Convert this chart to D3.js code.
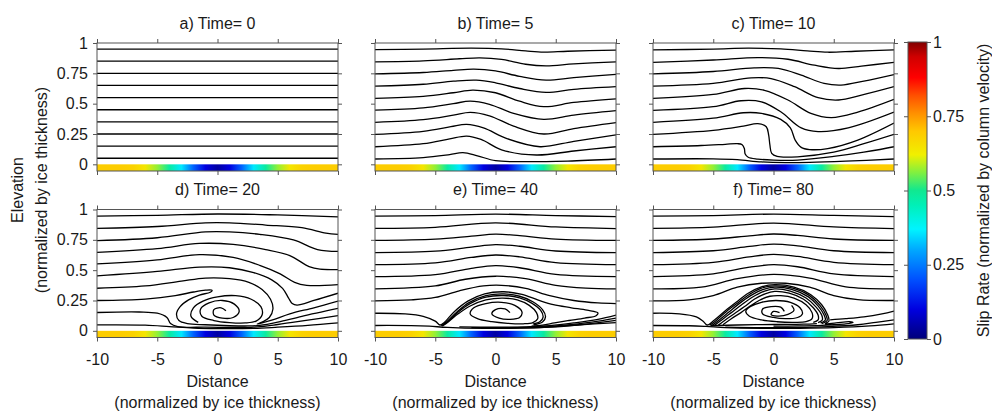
<!DOCTYPE html>
<html><head><meta charset="utf-8">
<script src="https://cdn.jsdelivr.net/npm/d3@7"></script>
<style>
body{margin:0;background:#fff}
svg{display:block}
text{font-family:"Liberation Sans",Arial,Helvetica,sans-serif;font-size:16px;fill:#1a1a1a}
</style>
</head><body>
<svg id="chart" width="992" height="413"></svg>
<script>
// ---------------- data ----------------
const panelTitles = ["a) Time= 0","b) Time= 5","c) Time= 10","d) Time= 20","e) Time= 40","f) Time= 80"];
const xTickValues = [-10,-5,0,5,10];
const yTickValues = [0,0.25,0.5,0.75,1];
const colorbarTicks = [0,0.25,0.5,0.75,1];
const xLabel = ["Distance","(normalized by ice thickness)"];
const yLabel = ["Elevation","(normalized by ice thickness)"];
const colorbarLabel = "Slip Rate (normalized by column velocity)";

// basal slip rate along the bed
const slipX    = [-10,-9,-8,-7,-6,-5,-4,-3,-2,-1,0,1,2,3,4,5,6,7,8,9,10];
const slipRate = [0.69,0.69,0.69,0.68,0.64,0.57,0.48,0.36,0.22,0.1,0.04,0.1,0.22,0.36,0.48,0.57,0.64,0.68,0.69,0.69,0.69];

// colour map
const cmapStops  = [0,0.1,0.2,0.3,0.37,0.45,0.5,0.56,0.62,0.7,0.76,0.82,0.88,0.95,1];
const cmapColors = ["#00007a","#0000e0","#0050ff","#00a8ff","#00f4ff","#00f0b8","#10e890","#80f040","#f0f000","#ffc800","#ff9000","#ff5000","#ff0000","#d00000","#800000"];

// isochrone layers (x, elevation) per time
const layersT0 = [
 [[-10,0.05],[10,0.05]],[[-10,0.15],[10,0.15]],[[-10,0.25],[10,0.25]],[[-10,0.35],[10,0.35]],[[-10,0.45],[10,0.45]],
 [[-10,0.55],[10,0.55]],[[-10,0.65],[10,0.65]],[[-10,0.75],[10,0.75]],[[-10,0.85],[10,0.85]],[[-10,0.95],[10,0.95]]
];
const layersT5 = [
 [[-10,0.946],[-6,0.95],[-2,0.957],[0.5,0.952],[2.5,0.935],[4,0.925],[6,0.932],[10,0.942]],
 [[-10,0.845],[-6,0.853],[-3,0.87],[-1.3,0.878],[0.5,0.865],[2.5,0.825],[4.2,0.812],[6.5,0.828],[10,0.845]],
 [[-10,0.746],[-6,0.757],[-3.5,0.775],[-1.8,0.785],[0,0.77],[2,0.725],[4.2,0.694],[6.5,0.715],[10,0.742]],
 [[-10,0.645],[-6,0.66],[-3.5,0.685],[-1.6,0.694],[0,0.672],[2,0.625],[4.2,0.593],[6.5,0.618],[10,0.64]],
 [[-10,0.543],[-6,0.56],[-3.5,0.59],[-1.9,0.612],[0,0.59],[2,0.52],[4,0.475],[6.5,0.51],[10,0.54]],
 [[-10,0.447],[-6,0.465],[-3.5,0.5],[-2.1,0.521],[-0.5,0.495],[1.5,0.42],[4,0.37],[6.5,0.405],[10,0.442]],
 [[-10,0.346],[-6,0.368],[-3.5,0.405],[-2.1,0.428],[-0.5,0.4],[1.5,0.315],[4,0.25],[6.5,0.295],[10,0.344]],
 [[-10,0.247],[-6,0.272],[-3.7,0.31],[-2.4,0.329],[-1,0.3],[1,0.21],[3.7,0.145],[6.5,0.19],[10,0.242]],
 [[-10,0.145],[-6,0.17],[-3.8,0.21],[-2.4,0.233],[-1.2,0.205],[0.5,0.12],[3.4,0.077],[6.5,0.11],[10,0.145]],
 [[-10,0.044],[-6,0.055],[-3.8,0.08],[-2.7,0.096],[-1.5,0.07],[0,0.03],[2,0.022],[6,0.027],[10,0.044]]
];
const layersT10 = [
 [[-10,0.943],[-5,0.95],[-2.1,0.957],[0.6,0.951],[2.8,0.935],[4.5,0.924],[6.8,0.932],[10,0.943]],
 [[-10,0.84],[-5,0.86],[-1.3,0.88],[1.2,0.866],[3.4,0.817],[5.4,0.79],[7.3,0.81],[10,0.84]],
 [[-10,0.745],[-5,0.765],[-1.6,0.795],[0.4,0.79],[2.3,0.735],[4.2,0.667],[5.6,0.653],[7.5,0.686],[10,0.74]],
 [[-10,0.645],[-5,0.667],[-1.85,0.713],[-0.2,0.707],[1.75,0.64],[3.7,0.549],[5.4,0.53],[7.3,0.57],[10,0.64]],
 [[-10,0.543],[-5,0.576],[-2.4,0.625],[-0.75,0.61],[1.2,0.53],[3.1,0.42],[4.8,0.385],[7,0.43],[10,0.535]],
 [[-10,0.445],[-5,0.475],[-2.7,0.524],[-1,0.515],[0.6,0.433],[2.3,0.3],[3.7,0.27],[6.2,0.3],[10,0.43]],
 [[-10,0.346],[-5,0.38],[-2.5,0.425],[-1,0.42],[0.6,0.37],[1.4,0.3],[1.8,0.2],[2.3,0.14],[3,0.122],[4.5,0.13],[7,0.2],[10,0.34]],
 [[-10,0.247],[-5,0.28],[-2.5,0.315],[-1.3,0.335],[-0.6,0.31],[-0.4,0.24],[-0.3,0.16],[-0.15,0.09],[0.3,0.065],[2,0.062],[5,0.1],[7.5,0.17],[10,0.247]],
 [[-10,0.145],[-6,0.155],[-4,0.165],[-3,0.17],[-2.6,0.162],[-2.42,0.13],[-2.35,0.085],[-2.1,0.058],[-1.3,0.043],[0,0.035],[2,0.035],[5,0.065],[7.5,0.1],[10,0.145]],
 [[-10,0.044],[-5,0.045],[-3,0.038],[-1,0.02],[1,0.014],[3,0.016],[6,0.026],[10,0.044]]
];
const layersT20 = [
 [[-10,0.946],[-5,0.952],[0,0.963],[5,0.955],[10,0.94]],
 [[-10,0.845],[-5,0.86],[-1,0.89],[1,0.89],[4,0.872],[7,0.85],[9,0.805],[10,0.795]],
 [[-10,0.743],[-5,0.767],[-1,0.815],[1,0.815],[3.5,0.795],[6.3,0.749],[8.3,0.67],[10,0.655]],
 [[-10,0.647],[-5,0.677],[-1.5,0.72],[1.3,0.712],[4,0.67],[6,0.62],[7.6,0.53],[8.5,0.508],[10,0.505]],
 [[-10,0.551],[-5,0.585],[-1.5,0.628],[1.3,0.605],[3.5,0.54],[5.2,0.47],[6.4,0.4],[7.4,0.375],[10,0.38]],
 [[-10,0.453],[-5,0.49],[-1.5,0.525],[1,0.52],[3,0.48],[4.5,0.42],[5.4,0.35],[5.9,0.27],[6.2,0.225],[6.6,0.212],[8,0.25],[10,0.31]],
 [[-10,0.351],[-6,0.37],[-3,0.41],[-1,0.435],[1,0.43],[2.6,0.4],[3.7,0.34],[4.4,0.26],[4.6,0.18],[4.3,0.11],[3.7,0.072],[3.3,0.056],[4.5,0.088],[6,0.14],[8,0.19],[10,0.245]],
 [[-10,0.25],[-6,0.262],[-3.5,0.29],[-2,0.32],[-1,0.335],[-0.45,0.335],[-0.6,0.318],[-1.5,0.295],[-2.4,0.255],[-3.1,0.2],[-3.4,0.14],[-3.2,0.085],[-2.5,0.06],[-1,0.05],[1,0.042],[2.5,0.04],[3.5,0.045],[5,0.072],[7,0.12],[10,0.185]],
 [[-10,0.151],[-6.5,0.155],[-5,0.145],[-4.2,0.11],[-3.9,0.06],[-3.3,0.035],[-1,0.03],[1,0.028],[3,0.03],[5,0.052],[7.5,0.088],[10,0.125]],
 [[-10,0.049],[-6,0.047],[-4,0.035],[-2,0.022],[0,0.018],[3,0.02],[5,0.03],[7.5,0.045],[10,0.065]],
 [[-1.6,0.07],[-2.2,0.12],[-2,0.19],[-1.2,0.245],[0,0.28],[1.5,0.29],[2.8,0.26],[3.6,0.2],[3.7,0.13],[3.2,0.08],[2.3,0.065],[1,0.068],[-0.3,0.085],[-1.3,0.12],[-1.4,0.18],[-0.7,0.23],[0.4,0.25],[1.4,0.22],[1.8,0.16],[1.3,0.11],[0.4,0.105],[-0.3,0.13],[-0.3,0.175],[0.3,0.19],[0.7,0.165]]
];
const layersT40 = [
 [[-10,0.946],[-5,0.95],[0,0.962],[5,0.95],[10,0.942]],
 [[-10,0.845],[-5,0.853],[0,0.89],[5,0.856],[10,0.843]],
 [[-10,0.745],[-5,0.755],[-2,0.78],[0,0.797],[2,0.785],[5,0.756],[10,0.745]],
 [[-10,0.645],[-5,0.657],[-2,0.69],[0,0.71],[2,0.697],[5,0.658],[10,0.645]],
 [[-10,0.545],[-5,0.56],[-2,0.605],[0,0.625],[2,0.61],[5,0.562],[10,0.545]],
 [[-10,0.447],[-5,0.463],[-2,0.515],[0,0.537],[2,0.52],[5,0.465],[10,0.447]],
 [[-10,0.346],[-5,0.37],[-2.5,0.425],[0,0.45],[2.5,0.43],[5,0.375],[7.5,0.352],[10,0.346]],
 [[-10,0.247],[-7,0.255],[-5,0.275],[-3,0.33],[-1,0.37],[0.5,0.375],[2.5,0.35],[4.5,0.29],[6.5,0.25],[8.5,0.23],[10,0.225]],
 [[-10,0.145],[-7.5,0.14],[-6,0.12],[-5,0.08],[-4.6,0.048],[-4.3,0.065],[-3.4,0.16],[-2.3,0.245],[-0.9,0.305],[0.7,0.322],[2.2,0.3],[3.5,0.255],[4.8,0.215],[6.3,0.19],[7.6,0.17],[8.5,0.148],[8.35,0.125],[7.4,0.105],[6.1,0.085],[4.9,0.065],[3.9,0.047],[3,0.038]],
 [[-10,0.044],[-7,0.043],[-5.5,0.038],[-4,0.028],[-1,0.02],[2,0.022],[4,0.028],[7,0.05],[10,0.068]],
 [[-4.5,0.042],[-4.1,0.07],[-3.2,0.155],[-2.2,0.232],[-0.8,0.29],[0.7,0.305],[2,0.285],[3.1,0.24],[3.9,0.175],[4.15,0.115],[3.9,0.072],[3.2,0.05]],
 [[-4.45,0.041],[-4,0.072],[-3.15,0.15],[-2.15,0.222],[-0.8,0.278],[0.7,0.291],[2,0.272],[3,0.228],[3.75,0.168],[3.95,0.113],[3.7,0.076],[3.1,0.055]],
 [[-4.4,0.04],[-3.9,0.075],[-3.1,0.14],[-2.1,0.205],[-0.8,0.255],[0.6,0.27],[1.8,0.255],[2.8,0.21],[3.4,0.15],[3.5,0.1],[3.1,0.068],[2.3,0.058],[1,0.062],[-0.3,0.075],[-1.5,0.1],[-2.1,0.14],[-1.8,0.19],[-0.8,0.225],[0.5,0.235],[1.6,0.21],[2.2,0.155],[2,0.11],[1.2,0.095],[0.3,0.105],[-0.3,0.14],[0,0.175],[0.8,0.18],[1.2,0.15]],
 [[-3,0.032],[0,0.03],[2.5,0.033],[4.5,0.042],[6.5,0.065],[8.5,0.095],[10,0.13]],
 [[-2,0.027],[1,0.026],[3.5,0.032],[5.5,0.045],[8,0.072],[10,0.105]],
 [[-1,0.023],[2,0.024],[4.5,0.03],[7,0.05],[10,0.087]]
];
const layersT80 = [
 [[-10,0.946],[-5,0.95],[0,0.962],[5,0.951],[10,0.942]],
 [[-10,0.845],[-5,0.855],[0,0.888],[5,0.857],[10,0.843]],
 [[-10,0.745],[-5,0.757],[-2,0.783],[0,0.798],[2,0.786],[5,0.757],[10,0.745]],
 [[-10,0.645],[-5,0.66],[-2,0.696],[0,0.715],[2,0.7],[5,0.66],[10,0.645]],
 [[-10,0.545],[-5,0.565],[-2,0.61],[0,0.63],[2,0.613],[5,0.565],[10,0.545]],
 [[-10,0.447],[-5,0.47],[-2,0.525],[0,0.545],[2,0.528],[5,0.47],[10,0.447]],
 [[-10,0.346],[-6,0.36],[-3,0.43],[0,0.465],[3,0.435],[6,0.362],[10,0.346]],
 [[-10,0.247],[-7,0.255],[-5,0.29],[-3,0.36],[-1,0.392],[1,0.392],[3,0.36],[5,0.29],[7,0.257],[10,0.25]],
 [[-10,0.145],[-7.8,0.14],[-6.4,0.115],[-5.8,0.075],[-5.5,0.048],[-4.9,0.09],[-4,0.165],[-3.1,0.235],[-2.1,0.31],[-1,0.362],[0.1,0.38],[1.7,0.36],[3.1,0.298],[4,0.215],[4.5,0.13],[4.6,0.08],[4.3,0.058],[5.2,0.065],[6.3,0.075],[6.6,0.068],[6,0.057],[5,0.05],[4,0.045],[2,0.04],[0,0.038]],
 [[-10,0.044],[-7,0.042],[-5.6,0.036],[-4,0.026],[-1,0.02],[2,0.021],[5,0.026],[8,0.04],[10,0.058]],
 [[-5.3,0.045],[-4.7,0.09],[-3.9,0.16],[-3,0.228],[-2,0.3],[-1,0.352],[0.1,0.37],[1.6,0.351],[3,0.29],[3.85,0.21],[4.35,0.13],[4.45,0.085],[4,0.06]],
 [[-5.1,0.045],[-4.5,0.09],[-3.7,0.155],[-2.9,0.22],[-1.9,0.29],[-0.9,0.34],[0.1,0.36],[1.5,0.342],[2.9,0.28],[3.7,0.205],[4.2,0.13],[4.3,0.09],[3.9,0.065]],
 [[-4.9,0.045],[-4.3,0.09],[-3.5,0.15],[-2.7,0.21],[-1.8,0.275],[-0.8,0.326],[0.1,0.346],[1.4,0.328],[2.7,0.27],[3.5,0.2],[4,0.13],[4.05,0.09],[3.7,0.068]],
 [[-4.6,0.045],[-4,0.09],[-3.2,0.145],[-2.4,0.2],[-1.6,0.26],[-0.7,0.305],[0.1,0.325],[1.3,0.31],[2.5,0.26],[3.3,0.19],[3.7,0.13],[3.7,0.09],[3.3,0.07]],
 [[-4.2,0.05],[-3.5,0.1],[-2.7,0.15],[-2,0.2],[-1.2,0.25],[-0.3,0.285],[0.6,0.29],[1.7,0.27],[2.7,0.215],[3.2,0.15],[3.2,0.1],[2.7,0.075],[1.6,0.07],[0.3,0.075],[-1,0.09],[-2,0.12],[-2.3,0.16],[-1.9,0.2],[-1,0.235],[0.2,0.25],[1.4,0.235],[2.2,0.19],[2.4,0.14],[2,0.11],[1,0.1],[0,0.11],[-0.9,0.14],[-0.9,0.18],[-0.2,0.2],[0.6,0.195],[0.9,0.16]],
 [[0.5,0.15],[0,0.16],[-0.2,0.135],[0.3,0.122],[1.2,0.135],[1.7,0.17],[1.5,0.21]],
 [[-5.2,0.042],[-3,0.048],[0,0.052],[2.5,0.055],[3.6,0.06]],
 [[4.7,0.09],[6,0.1],[7.5,0.115],[9,0.14],[10,0.163]],
 [[-4,0.03],[-1,0.026],[2,0.028],[4.5,0.035],[7,0.05],[8.5,0.07],[10,0.09]]
];
const panelLayers = [layersT0, layersT5, layersT10, layersT20, layersT40, layersT80];

// ---------------- layout ----------------
const svg = d3.select("#chart");
const colLeft = [97, 375, 653];
const rowTop = [43, 209.5];
const plotW = 241, plotH = 128;
const yDomain = [-0.055, 1];

const cmap = d3.scaleLinear().domain(cmapStops).range(cmapColors).interpolate(d3.interpolateRgb);

const defs = svg.append("defs");
const grad = defs.append("linearGradient").attr("id","slipGrad").attr("x1","0%").attr("x2","100%").attr("y1","0%").attr("y2","0%");
grad.selectAll("stop").data(slipX.map((x,i)=>({x, v:slipRate[i]}))).join("stop")
  .attr("offset", d => ((d.x + 10) / 20 * 100) + "%")
  .attr("stop-color", d => cmap(d.v));

const cbGrad = defs.append("linearGradient").attr("id","cbGrad").attr("x1","0%").attr("x2","0%").attr("y1","100%").attr("y2","0%");
cbGrad.selectAll("stop").data(cmapStops.map((s,i)=>({s, c:cmapColors[i]}))).join("stop")
  .attr("offset", d => (d.s*100) + "%").attr("stop-color", d => d.c);

const frameColor = "#555";

panelTitles.forEach((title, i) => {
  const row = Math.floor(i/3), col = i % 3;
  const left = colLeft[col], top = rowTop[row];
  const x = d3.scaleLinear().domain([-10,10]).range([left, left+plotW]);
  const y = d3.scaleLinear().domain(yDomain).range([top+plotH, top]);
  const g = svg.append("g");

  defs.append("clipPath").attr("id","clip"+i).append("rect")
    .attr("x", x(-10)).attr("y", y(1)).attr("width", plotW).attr("height", y(0)-y(1)+0.5);

  // bed slip strip
  g.append("rect").attr("x", x(-10)).attr("y", y(0)).attr("width", plotW)
    .attr("height", y(yDomain[0]) - y(0)).attr("fill","url(#slipGrad)");

  // layers
  const line = d3.line().x(d => x(d[0])).y(d => y(d[1])).curve(d3.curveCatmullRom.alpha(0.5));
  g.append("g").attr("clip-path","url(#clip"+i+")")
    .selectAll("path").data(panelLayers[i]).join("path")
    .attr("d", line).attr("fill","none").attr("stroke","#000")
    .attr("stroke-width", 1.3).attr("stroke-linejoin","round");

  // frame
  g.append("rect").attr("x", x(-10)).attr("y", y(1)).attr("width", plotW).attr("height", plotH)
    .attr("fill","none").attr("stroke", frameColor).attr("stroke-width",1);

  const fmt = d => String(d);
  const axL = d3.axisLeft(y).tickValues(yTickValues).tickSize(4).tickSizeOuter(0).tickPadding(5).tickFormat(col===0?fmt:()=>"");
  const axR = d3.axisRight(y).tickValues(yTickValues).tickSize(4).tickSizeOuter(0).tickFormat(()=>"");
  const axT = d3.axisTop(x).tickValues(xTickValues).tickSize(4).tickSizeOuter(0).tickFormat(()=>"");
  const axB = d3.axisBottom(x).tickValues(xTickValues).tickSize(4).tickSizeOuter(0).tickPadding(12).tickFormat(row===1?fmt:()=>"");
  [[axL,`translate(${x(-10)},0)`],[axR,`translate(${x(10)},0)`],[axT,`translate(0,${y(1)})`],[axB,`translate(0,${y(yDomain[0])})`]]
   .forEach(([ax,tr]) => {
     const a = g.append("g").attr("transform", tr).call(ax);
     a.select(".domain").remove();
     a.selectAll("line").attr("stroke", frameColor);
     a.selectAll("text").attr("font-size",16).attr("font-family",null).attr("fill","#1a1a1a");
   });

  // title
  g.append("text").attr("x", x(0)).attr("y", row===0 ? 28.7 : 195.3)
    .attr("text-anchor","middle").text(title);

  if (row === 1) {
    g.append("text").attr("x", x(0)).attr("y", 386.5).attr("text-anchor","middle").text(xLabel[0]);
    g.append("text").attr("x", x(0)).attr("y", 407.5).attr("text-anchor","middle").text(xLabel[1]);
  }
});

// y axis label
svg.append("text").attr("transform","translate(23,190) rotate(-90)").attr("text-anchor","middle").text(yLabel[0]);
svg.append("text").attr("transform","translate(46.5,190) rotate(-90)").attr("text-anchor","middle").text(yLabel[1]);

// colour bar
const cbX = 908, cbW = 19;
const cbY = d3.scaleLinear().domain([0,1]).range([339, 42]);
svg.append("rect").attr("x", cbX).attr("y", cbY(1)).attr("width", cbW).attr("height", cbY(0)-cbY(1))
  .attr("fill","url(#cbGrad)").attr("stroke", frameColor).attr("stroke-width",1);
const cbR = svg.append("g").attr("transform",`translate(${cbX+cbW},0)`)
  .call(d3.axisRight(cbY).tickValues(colorbarTicks).tickSize(4).tickSizeOuter(0).tickPadding(2).tickFormat(d=>String(d)));
const cbL = svg.append("g").attr("transform",`translate(${cbX},0)`)
  .call(d3.axisLeft(cbY).tickValues(colorbarTicks).tickSize(4).tickSizeOuter(0).tickFormat(()=>""));
[cbR, cbL].forEach(a => {
  a.select(".domain").remove();
  a.selectAll("line").attr("stroke", frameColor);
  a.selectAll("text").attr("font-size",16).attr("font-family",null).attr("fill","#1a1a1a");
});
svg.append("text").attr("transform",`translate(989,${(cbY(0)+cbY(1))/2}) rotate(-90)`)
  .attr("text-anchor","middle").text(colorbarLabel);
</script>
</body></html>
